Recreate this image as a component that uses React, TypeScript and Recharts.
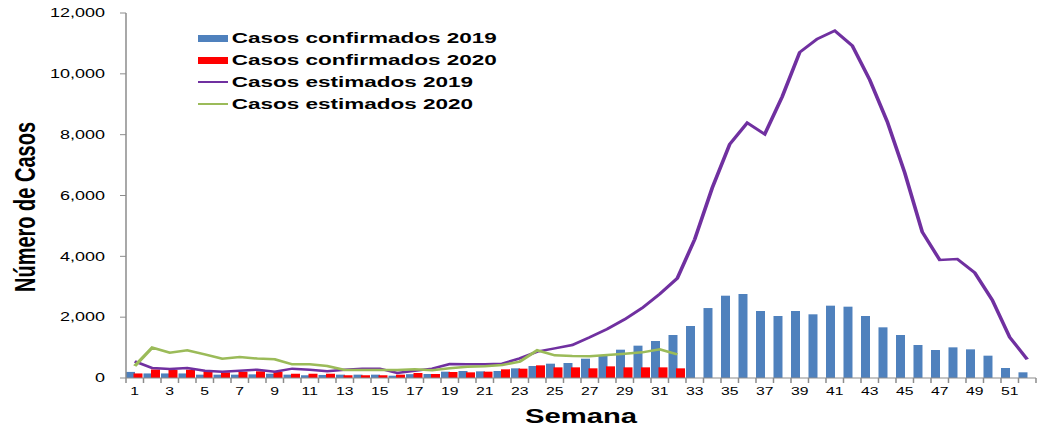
import React from 'react';
import { ComposedChart, Bar, Line, XAxis, YAxis, Legend } from 'recharts';

const weeks: string[] = Array.from({ length: 52 }, (_, i) => String(i + 1));

const confirmados2019: number[] = [
  200, 150, 150, 150, 110, 110, 110, 120, 140, 110, 90, 100, 110, 110, 110, 76,
  126, 131, 208, 230, 219, 230, 318, 395, 471, 493, 635, 723, 931, 1063, 1217, 1414,
  1710, 2300, 2706, 2762, 2203, 2039, 2203, 2094, 2378, 2345, 2039, 1666, 1414, 1085,
  920, 1008, 942, 734, 329, 187,
];

const confirmados2020: (number | null)[] = [
  150, 280, 265, 273, 207, 185, 207, 220, 207, 140, 140, 140, 90, 90, 88, 110,
  164, 131, 197, 186, 208, 285, 307, 416, 350, 350, 318, 383, 350, 350, 350, 318,
];

const estimados2019: number[] = [
  546, 329, 296, 329, 240, 207, 240, 274, 207, 307, 274, 220, 274, 307, 307, 164,
  240, 307, 460, 455, 450, 470, 647, 866, 975, 1085, 1337, 1611, 1929, 2302, 2762, 3277,
  4560, 6250, 7690, 8390, 8015, 9250, 10710, 11146, 11415, 10928, 9800, 8430, 6750, 4800,
  3880, 3913, 3463, 2565, 1338, 614,
];

const estimados2020: (number | null)[] = [
  395, 997, 833, 910, 778, 635, 690, 640, 614, 450, 450, 395, 263, 263, 263, 263,
  285, 252, 318, 373, 384, 427, 537, 910, 745, 723, 712, 756, 800, 843, 942, 778,
];

const yTicks: number[] = [0, 2000, 4000, 6000, 8000, 10000, 12000];

const seriesNames = {
  c19: 'Casos confirmados 2019',
  c20: 'Casos confirmados 2020',
  e19: 'Casos estimados 2019',
  e20: 'Casos estimados 2020',
};

const COLORS = {
  c19: '#4F81BD',
  c20: '#FF0000',
  e19: '#7030A0',
  e20: '#9BBB59',
};

const data = weeks.map((w, i) => ({
  week: w,
  c19: confirmados2019[i] ?? null,
  c20: confirmados2020[i] ?? null,
  e19: estimados2019[i] ?? null,
  e20: estimados2020[i] ?? null,
}));

const SCALE_X = 1.5;
const FULL_W = 1042;
const FULL_H = 429;
const CHART_W = FULL_W / SCALE_X;
const Y_AXIS_W = 84;
const MARGIN = { top: 13, right: 4, bottom: 0, left: 0 };
const X_AXIS_H = 51;
const AXIS_Y = FULL_H - MARGIN.bottom - X_AXIS_H;
const PLOT_W = CHART_W - Y_AXIS_W - MARGIN.left - MARGIN.right;
const BAND = PLOT_W / weeks.length;
const FONT = '"Liberation Sans", Arial, sans-serif';
const AXIS_COLOR = '#8C8C8C';

const XTick = (props: any) => {
  const { x, payload, index } = props;
  const n = Number(payload.value);
  const left = x - BAND / 2;
  const right = x + BAND / 2;
  return (
    <g>
      <line x1={left} x2={left} y1={AXIS_Y} y2={AXIS_Y + 5} stroke={AXIS_COLOR} strokeWidth={1} />
      {index === weeks.length - 1 && (
        <line x1={right} x2={right} y1={AXIS_Y} y2={AXIS_Y + 5} stroke={AXIS_COLOR} strokeWidth={1} />
      )}
      {n % 2 === 1 && (
        <text x={x} y={AXIS_Y + 17.5} textAnchor="middle" fontSize={10.5} fontFamily={FONT} fill="#000">
          {payload.value}
        </text>
      )}
    </g>
  );
};

const YTitle = () => (
  <text
    transform={`translate(23.5, 207) rotate(-90)`}
    textAnchor="middle"
    fontSize={20}
    fontWeight="bold"
    fontFamily={'"Liberation Sans Narrow", "Liberation Sans", Arial, sans-serif'}
    textLength={170}
    lengthAdjust="spacingAndGlyphs"
    fill="#000"
  >
    Número de Casos
  </text>
);

const XTitle = () => (
  <text
    x={Y_AXIS_W + PLOT_W / 2}
    y={423}
    textAnchor="middle"
    fontSize={19.5}
    fontWeight="bold"
    fontFamily={FONT}
    fill="#000"
  >
    Semana
  </text>
);

const legendItems = [
  { key: 'c19', type: 'bar' },
  { key: 'c20', type: 'bar' },
  { key: 'e19', type: 'line' },
  { key: 'e20', type: 'line' },
] as const;

const renderLegend = () => (
  <div style={{ fontFamily: FONT }}>
    {legendItems.map((it) => (
      <div key={it.key} style={{ display: 'flex', alignItems: 'center', height: 22 }}>
        <div
          style={{
            width: 20,
            height: it.type === 'bar' ? 7 : 2.5,
            background: (COLORS as any)[it.key],
            marginRight: 2.5,
          }}
        />
        <span style={{ fontSize: 15, fontWeight: 'bold', color: '#000', whiteSpace: 'nowrap', lineHeight: '22px' }}>
          {(seriesNames as any)[it.key]}
        </span>
      </div>
    ))}
  </div>
);

export default function App() {
  return (
    <div style={{ position: 'absolute', left: 0, top: 0, width: FULL_W, height: FULL_H, overflow: 'hidden', background: '#fff' }}>
      <div style={{ width: CHART_W, height: FULL_H, transform: `scaleX(${SCALE_X})`, transformOrigin: '0 0' }}>
        <ComposedChart
          width={CHART_W}
          height={FULL_H}
          data={data}
          margin={MARGIN}
          barCategoryGap={0}
          barGap={-1}
        >
          <XAxis
            dataKey="week"
            interval={0}
            height={X_AXIS_H}
            tickLine={false}
            axisLine={{ stroke: AXIS_COLOR }}
            tick={<XTick />}
            label={<XTitle />}
          />
          <YAxis
            width={Y_AXIS_W}
            domain={[0, 12000]}
            ticks={yTicks}
            tickSize={4}
            tickMargin={10}
            tickLine={{ stroke: AXIS_COLOR }}
            axisLine={{ stroke: AXIS_COLOR }}
            tickFormatter={(v: number) => v.toLocaleString('en-US')}
            tick={{ fontSize: 12, fill: '#000', fontFamily: FONT }}
            label={<YTitle />}
          />
          <Legend
            layout="vertical"
            align="center"
            verticalAlign="middle"
            content={renderLegend}
            wrapperStyle={{ position: 'absolute', left: 132, top: 27, width: 'auto', height: 'auto' }}
          />
          <Bar dataKey="c19" name={seriesNames.c19} fill={COLORS.c19} isAnimationActive={false} />
          <Bar dataKey="c20" name={seriesNames.c20} fill={COLORS.c20} isAnimationActive={false} />
          <Line
            type="linear"
            dataKey="e19"
            name={seriesNames.e19}
            stroke={COLORS.e19}
            strokeWidth={2.5}
            dot={false}
            activeDot={false}
            isAnimationActive={false}
          />
          <Line
            type="linear"
            dataKey="e20"
            name={seriesNames.e20}
            stroke={COLORS.e20}
            strokeWidth={2.5}
            dot={false}
            activeDot={false}
            isAnimationActive={false}
          />
        </ComposedChart>
      </div>
    </div>
  );
}
